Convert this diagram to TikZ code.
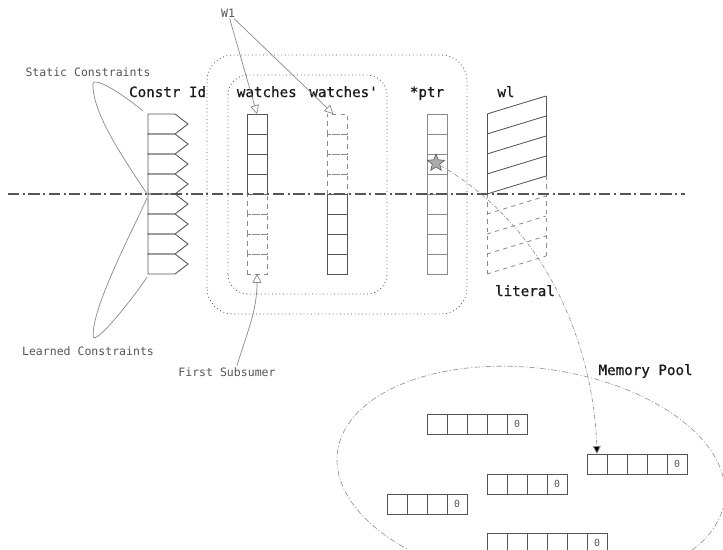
\documentclass[tikz,border=0pt]{standalone}
\usepackage{fontspec}
\setmonofont{DejaVu Sans Mono}
\newfontfamily\cclabfont[FakeBold=0.7]{DejaVu Sans Mono}
\usetikzlibrary{arrows.meta, shapes.geometric, calc}
\definecolor{ccInk}{HTML}{1A1A1A}
\definecolor{ccLine}{HTML}{555555}
\definecolor{ccSoft}{HTML}{8A8A8A}
\definecolor{ccFaint}{HTML}{9A9A9A}
\definecolor{ccStar}{HTML}{ABABAB}
\tikzset{
  cclabel/.style={font=\fontsize{10.1}{12}\selectfont\cclabfont,
    text=ccInk, anchor=base, inner sep=1pt},
  ccnote/.style={font=\fontsize{8.2}{10}\selectfont\ttfamily, text=ccLine,
    anchor=base, inner sep=1pt},
  cccell/.style={draw=#1, line width=0.6pt, minimum size=0.5cm, inner sep=0pt,
    outer sep=0pt, font=\fontsize{7}{8}\selectfont\ttfamily, text=ccLine},
  cccell/.default=ccLine,
  ccghost/.style={cccell=ccSoft, dashed},
  ccshape/.style={draw=ccLine, line width=0.6pt},
  ccframe/.style={draw=ccLine, line width=0.6pt, dotted},
  ccaxis/.style={draw=ccLine, line width=0.8pt,
    dash pattern=on 8pt off 2.5pt on 1.5pt off 2.5pt},
  ccloop/.style={draw=ccSoft, line width=0.5pt},
  ccpoint/.style={draw=ccSoft, line width=0.5pt,
    -{Triangle[open, length=2.2mm, width=2.2mm]}},
  ccref/.style={draw=ccFaint, line width=0.5pt,
    dash pattern=on 3pt off 1.2pt on 0.6pt off 1.2pt,
    -{Triangle[length=2mm, width=2mm, fill=black]}},
  ccpool/.style={draw=ccFaint, line width=0.5pt,
    dash pattern=on 4pt off 1.5pt on 0.8pt off 1.5pt},
}
\begin{document}
\begin{tikzpicture}
  \useasboundingbox (0,-8.875) rectangle (18.075,4.85);
  \clip (0,-8.875) rectangle (18.075,4.85);

  % --- Column headers -----------------------------------------------------
  \node[cclabel] (cidlab)  at (4.19,2.425)   {Constr Id};
  \node[cclabel] (wlab)    at (6.67,2.425)   {watches};
  \node[cclabel] (wplab)   at (8.59,2.425)   {watches'};
  \node[cclabel] (ptrlab)  at (10.675,2.425) {*ptr};
  \node[cclabel] (wllab)   at (12.65,2.425)  {wl};
  \node[cclabel] (litlab)  at (13.125,-2.55) {literal};
  \node[cclabel] (poollab) at (16.14,-4.525) {Memory Pool};

  % side notes
  \node[ccnote] (w1)       at (5.7,4.425)    {W1};
  \node[ccnote] (static)   at (2.2,2.95)     {Static Constraints};
  \node[ccnote] (learned)  at (2.2,-4.04)    {Learned Constraints};
  \node[ccnote] (subsumer) at (5.675,-4.55)  {First Subsumer};

  % --- Constraint ids (pentagons) ----------------------------------------
  \foreach \i in {0,...,7}
    \draw[ccshape] (3.7,2-0.5*\i) -- (4.375,2-0.5*\i) -- (4.7,1.75-0.5*\i)
      -- (4.375,1.5-0.5*\i) -- (3.7,1.5-0.5*\i) -- cycle;
  \coordinate (cid-top) at (3.575,2.075);
  \coordinate (cid-mid) at (3.675,0);
  \coordinate (cid-low) at (3.675,-0.1);
  \coordinate (cid-end) at (3.675,-2.075);

  % --- watches / watches' / *ptr columns ---------------------------------
  \foreach \i in {1,...,4} {
    \node[cccell]        (w-\i)   at (6.425,2.25-0.5*\i)  {};
    \node[ccghost]       (wp-\i)  at (8.425,2.25-0.5*\i)  {};
  }
  \foreach \i in {5,...,8} {
    \node[ccghost]       (w-\i)   at (6.425,2.25-0.5*\i)  {};
    \node[cccell]        (wp-\i)  at (8.425,2.25-0.5*\i)  {};
  }
  \foreach \i in {1,...,8}
    \node[cccell=ccSoft] (ptr-\i) at (10.925,2.25-0.5*\i) {};
  \node[star, star points=5, star point ratio=2.3, minimum size=0.45cm,
        inner sep=0pt, draw=ccLine, fill=ccStar, line width=0.4pt]
        (ptrstar) at (10.9,0.775) {};

  % --- wl (slanted) -------------------------------------------------------
  \foreach \i in {0,...,4}
    \draw[ccshape] (12.175,2-0.5*\i) -- (13.65,2.45-0.5*\i);
  \draw[ccshape] (12.175,2) -- (12.175,0) (13.65,2.45) -- (13.65,0.45);
  \foreach \i in {5,...,8}
    \draw[ccshape, draw=ccSoft, dashed] (12.175,2-0.5*\i) -- (13.65,2.45-0.5*\i);
  \draw[ccshape, draw=ccSoft, dashed] (12.175,0) -- (12.175,-2)
    (13.65,0.45) -- (13.65,-1.55);

  % --- group frames -------------------------------------------------------
  \draw[ccframe, rounded corners=0.65cm] (5.175,-3.0) rectangle (11.675,3.475);
  \draw[ccframe, rounded corners=0.5cm]  (5.7,-2.5) rectangle (9.675,2.975);

  % --- axis ---------------------------------------------------------------
  \coordinate (axis-l) at (0.2,0);
  \coordinate (axis-r) at (17.125,0);
  \draw[ccaxis] (axis-l) -- (axis-r);

  % --- static / learned loops --------------------------------------------
  \coordinate (static-tip)  at (2.325,2.75);
  \coordinate (learned-tip) at (2.33,-3.55);
  \draw[ccloop] (cid-top) .. controls (3.0,2.55) and (2.33,2.95) .. (static-tip)
    .. controls (2.3,2.0) and (3.175,0.77) .. (cid-mid);
  \draw[ccloop] (cid-low) .. controls (3.375,-0.8) and (2.3,-2.8) .. (learned-tip)
    .. controls (2.35,-3.85) and (3.425,-2.475) .. (cid-end);

  % --- pointers -----------------------------------------------------------
  \draw[ccpoint] (w1) -- (w-1.north);
  \draw[ccpoint] (w1) -- (wp-1.110);
  \draw[ccpoint] ([xshift=0.25cm]subsumer.north) to[out=73, in=-90] (w-8.south);

  % --- Memory pool --------------------------------------------------------
  \node[ellipse, ccpool, minimum width=9.75cm, minimum height=5.4cm,
        rotate=-7] (pool) at (13.275,-7.05) {};
  \foreach \row/\x/\y/\n in {1/10.925/-5.75/5, 2/14.925/-6.75/5,
                             3/12.425/-7.25/4, 4/9.925/-7.75/4,
                             5/12.425/-8.725/6} {
    \foreach \k in {1,...,\n}
      \node[cccell] (pool\row-\k) at (\x+0.5*\k-0.5,\y)
        {\ifnum\k=\n\relax 0\fi};
  }

  \draw[ccref] (ptrstar) .. controls (13.8,-0.9) and (14.85,-4.0) .. (pool2-1.north);

\end{tikzpicture}
\end{document}
